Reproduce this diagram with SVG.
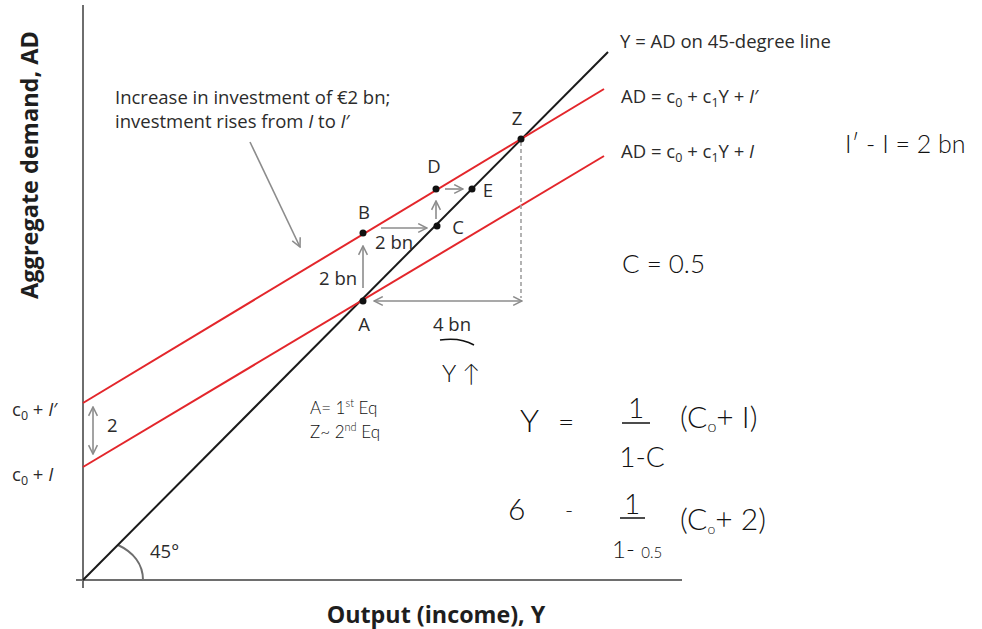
<svg xmlns="http://www.w3.org/2000/svg" width="982" height="629" viewBox="0 0 982 629">
<defs>
<marker id="chev" viewBox="0 0 10 10" refX="9" refY="5" markerWidth="11" markerHeight="11" markerUnits="userSpaceOnUse" orient="auto-start-reverse">
<path d="M1,1 L9,5 L1,9" fill="none" stroke="#8c8c8c" stroke-width="1.4"/>
</marker>
</defs>
<style>
.axis{stroke:#6e6e6e;stroke-width:2;fill:none}
.blk{stroke:#1a1a1a;stroke-width:2;fill:none}
.red{stroke:#e3262b;stroke-width:2;fill:none}
.arr{stroke:#8c8c8c;stroke-width:1.6;fill:none}
.dash{stroke:#a0a0a0;stroke-width:1.6;stroke-dasharray:4 3;fill:none}
.dot{fill:#111}
.t{font-family:"Open Sans","Liberation Sans",sans-serif;font-size:18.5px;fill:#2b2b2b}
.b{font-family:"Open Sans","Liberation Sans",sans-serif;font-weight:bold;fill:#1e1e1e}
.h{font-family:"Lato","Liberation Sans",sans-serif;font-weight:300;fill:#111}
.i{font-style:italic}
.sub{font-size:12.5px}
</style>
<rect width="982" height="629" fill="#ffffff"/>

<g id="axes">
<line class="axis" x1="83" y1="5" x2="83" y2="588"/>
<line class="axis" x1="76" y1="580" x2="682" y2="580"/>
<path class="axis" d="M118,545 C133,552 143,564 143,580" stroke-width="1.6"/>
<text class="t" x="150" y="558">45°</text>
<text class="b" font-size="23.5" transform="translate(38,165) rotate(-90)" text-anchor="middle">Aggregate demand, AD</text>
<text class="b" font-size="23.3" x="436" y="623" text-anchor="middle">Output (income), Y</text>
<text class="t" x="12" y="416" font-size="19">c<tspan class="sub" dy="4">0</tspan><tspan dy="-4"> + </tspan><tspan class="i">I</tspan>′</text>
<text class="t" x="12" y="481" font-size="19">c<tspan class="sub" dy="4">0</tspan><tspan dy="-4"> + </tspan><tspan class="i">I</tspan></text>
</g>

<g id="connectors">
<line id="line45" class="blk" x1="83" y1="580" x2="608" y2="52"/>
<line id="adI" class="red" x1="83" y1="467" x2="604" y2="156"/>
<line id="adI2" class="red" x1="83" y1="403" x2="604" y2="89"/>
<line class="arr" x1="93" y1="407" x2="93" y2="454" marker-start="url(#chev)" marker-end="url(#chev)"/>
<line class="arr" x1="363" y1="288" x2="363" y2="246" marker-end="url(#chev)"/>
<line class="arr" x1="381" y1="228" x2="427" y2="228" marker-end="url(#chev)"/>
<line class="arr" x1="436" y1="219" x2="436" y2="201" marker-end="url(#chev)"/>
<line class="arr" x1="445" y1="189" x2="463" y2="189" marker-end="url(#chev)"/>
<line class="arr" x1="374" y1="301" x2="522" y2="301" marker-start="url(#chev)" marker-end="url(#chev)"/>
<line class="dash" x1="521" y1="142" x2="521" y2="298"/>
<line class="arr" x1="250" y1="142" x2="300" y2="247" marker-end="url(#chev)"/>
</g>

<g id="labels">
<text class="t" x="115" y="104">Increase in investment of €2 bn;</text>
<text class="t" x="115" y="128">investment rises from <tspan class="i">I</tspan> to <tspan class="i">I</tspan>′</text>
<text class="t" x="620" y="48">Y = AD on 45-degree line</text>
<text class="t" x="621" y="103">AD = c<tspan class="sub" dy="4">0</tspan><tspan dy="-4"> + c</tspan><tspan class="sub" dy="4">1</tspan><tspan dy="-4">Y + </tspan><tspan class="i">I</tspan>′</text>
<text class="t" x="621" y="158">AD = c<tspan class="sub" dy="4">0</tspan><tspan dy="-4"> + c</tspan><tspan class="sub" dy="4">1</tspan><tspan dy="-4">Y + </tspan><tspan class="i">I</tspan></text>
<text class="t" x="107" y="432">2</text>
<text class="t" x="319" y="285">2 bn</text>
<text class="t" x="375" y="249">2 bn</text>
<text class="t" x="452" y="331" text-anchor="middle">4 bn</text>
</g>

<g id="A"><circle class="dot" cx="363" cy="301" r="3.5"/><text class="t" x="364" y="331" text-anchor="middle">A</text></g>
<g id="B"><circle class="dot" cx="363" cy="233" r="3.5"/><text class="t" x="364" y="219" text-anchor="middle">B</text></g>
<g id="C"><circle class="dot" cx="437" cy="226" r="3.5"/><text class="t" x="458" y="234" text-anchor="middle">C</text></g>
<g id="D"><circle class="dot" cx="436" cy="189" r="3.5"/><text class="t" x="434" y="173" text-anchor="middle">D</text></g>
<g id="E"><circle class="dot" cx="472" cy="189" r="3.5"/><text class="t" x="488" y="197" text-anchor="middle">E</text></g>
<g id="Z"><circle class="dot" cx="521" cy="139" r="3.5"/><text class="t" x="517" y="125" text-anchor="middle">Z</text></g>

<g id="handwriting">
<path d="M440,340 Q460,337 474,345" fill="none" stroke="#111" stroke-width="1.5"/>
<text class="h" x="442" y="382" font-size="24">Y ↑</text>
<text class="h" x="845" y="153" font-size="25">I′ - I = 2 bn</text>
<text class="h" x="622" y="273" font-size="26">C = 0.5</text>
<text class="h" x="310" y="414" font-size="17" font-weight="400">A= 1<tspan font-size="11" dy="-7">st</tspan><tspan dy="7"> Eq</tspan></text>
<text class="h" x="310" y="438" font-size="17" font-weight="400">Z~ 2<tspan font-size="11" dy="-7">nd</tspan><tspan dy="7"> Eq</tspan></text>
<text class="h" x="520" y="432" font-size="32">Y</text>
<text class="h" x="558" y="432" font-size="28">=</text>
<text class="h" x="636" y="418" font-size="28" text-anchor="middle">1</text>
<line x1="622" y1="423" x2="650" y2="423" stroke="#111" stroke-width="1.5"/>
<text class="h" x="642" y="467" font-size="28" text-anchor="middle">1-C</text>
<text class="h" x="680" y="428" font-size="30">(C<tspan font-size="16" dy="4">o</tspan><tspan dy="-4">+ I)</tspan></text>
<text class="h" x="508" y="520" font-size="30">6</text>
<text class="h" x="565" y="518" font-size="22">-</text>
<text class="h" x="632" y="514" font-size="28" text-anchor="middle">1</text>
<line x1="620" y1="518" x2="645" y2="518" stroke="#111" stroke-width="1.5"/>
<text class="h" x="612" y="558" font-size="24">1- <tspan font-size="15">0.5</tspan></text>
<text class="h" x="680" y="530" font-size="30">(C<tspan font-size="14" dy="4">o</tspan><tspan dy="-4">+ 2)</tspan></text>
</g>
</svg>
